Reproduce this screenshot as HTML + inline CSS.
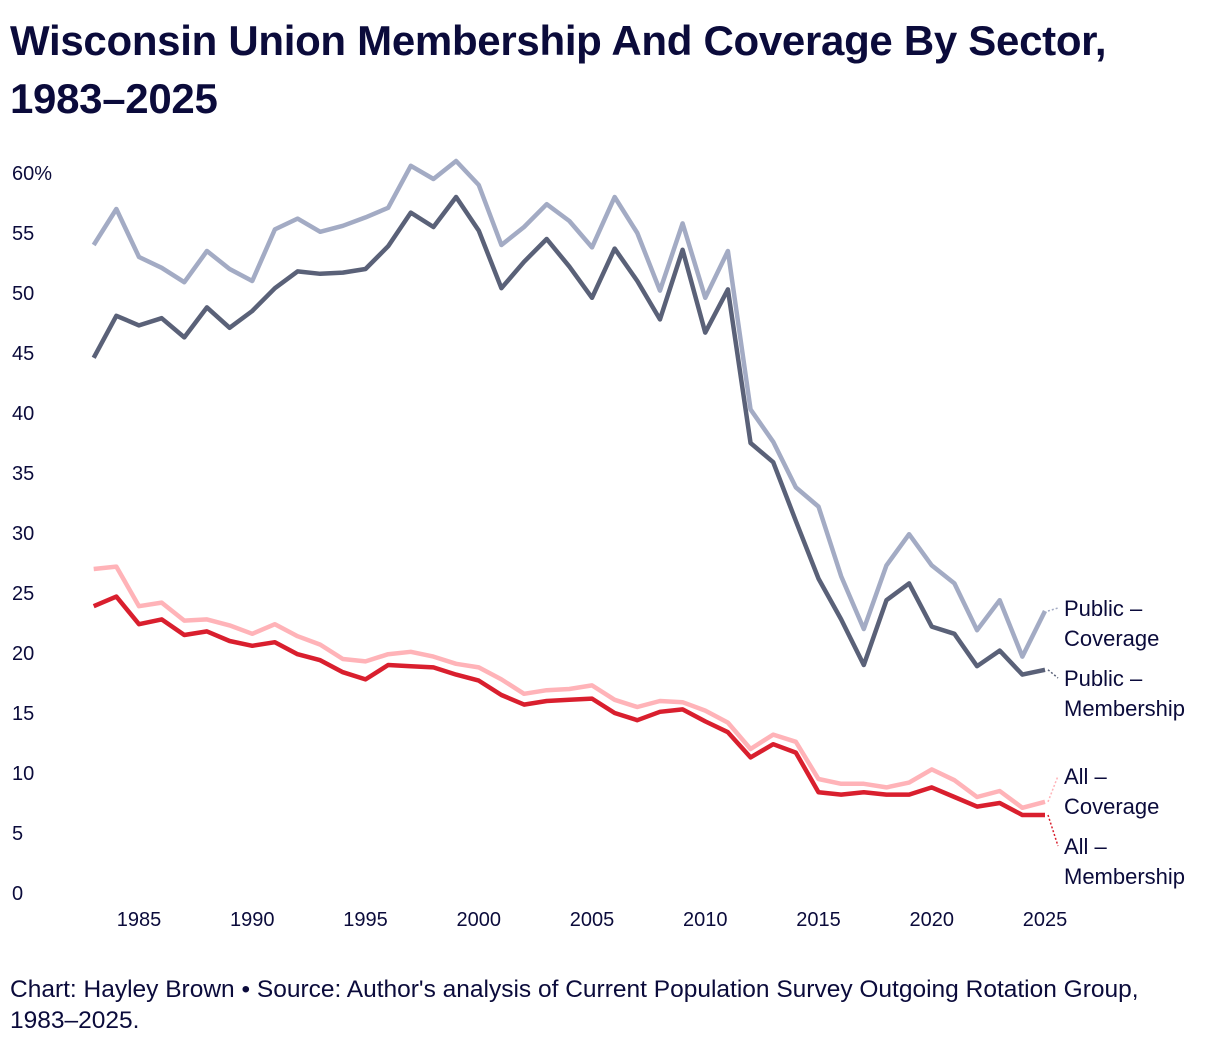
<!DOCTYPE html>
<html><head><meta charset="utf-8"><style>
body{margin:0;background:#fff;width:1220px;height:1044px;overflow:hidden;font-family:"Liberation Sans",sans-serif;color:#0b0b3b}
h1{position:absolute;left:10px;top:12px;margin:0;font-size:42px;line-height:58px;font-weight:bold;width:1210px;letter-spacing:-0.3px}
.foot{position:absolute;left:10px;top:974px;font-size:24.5px;line-height:31px;width:1210px}
svg{position:absolute;left:0;top:0}
</style></head><body>
<h1>Wisconsin Union Membership And Coverage By Sector,<br>1983–2025</h1>
<svg id="chart" width="1220" height="1044"></svg>
<div class="foot">Chart: Hayley Brown • Source: Author's analysis of Current Population Survey Outgoing Rotation Group,<br>1983–2025.</div>
<script>
const years=[];for(let y=1983;y<=2025;y++)years.push(y);
const publicCoverage=[54,57,53,52.1,50.9,53.5,52,51,55.3,56.2,55.1,55.6,56.3,57.1,60.6,59.5,61,59,54,55.5,57.4,56,53.8,58,55,50.2,55.8,49.6,53.5,40.3,37.6,33.8,32.2,26.4,22,27.3,29.9,27.3,25.8,21.9,24.4,19.7,23.5];
const publicMembership=[44.6,48.1,47.3,47.9,46.3,48.8,47.1,48.5,50.4,51.8,51.6,51.7,52,53.9,56.7,55.5,58,55.2,50.4,52.6,54.5,52.2,49.6,53.7,51,47.8,53.6,46.7,50.3,37.5,35.9,31,26.2,22.8,19,24.4,25.8,22.2,21.6,18.9,20.2,18.2,18.6];
const allCoverage=[27,27.2,23.9,24.2,22.7,22.8,22.3,21.6,22.4,21.4,20.7,19.5,19.3,19.9,20.1,19.7,19.1,18.8,17.8,16.6,16.9,17,17.3,16.1,15.5,16,15.9,15.2,14.2,12,13.2,12.6,9.5,9.1,9.1,8.8,9.2,10.3,9.4,8,8.5,7.1,7.6];
const allMembership=[23.9,24.7,22.4,22.8,21.5,21.8,21,20.6,20.9,19.9,19.4,18.4,17.8,19,18.9,18.8,18.2,17.7,16.5,15.7,16,16.1,16.2,15,14.4,15.1,15.3,14.3,13.4,11.3,12.4,11.7,8.4,8.2,8.4,8.2,8.2,8.8,8,7.2,7.5,6.5,6.5];
const yTicks=[0,5,10,15,20,25,30,35,40,45,50,55,60];
const xTicks=[1985,1990,1995,2000,2005,2010,2015,2020,2025];
const X=y=>139+(y-1985)*22.65, Y=v=>893-v*12;
const svg=document.getElementById('chart'),NS='http://www.w3.org/2000/svg';
function mk(t,a){const e=document.createElementNS(NS,t);for(const k in a)e.setAttribute(k,a[k]);svg.appendChild(e);return e;}
yTicks.forEach(v=>{const t=mk('text',{x:12,y:Y(v)+7,'font-size':20,fill:'#0b0b3b'});t.textContent=v===60?'60%':v;

});
xTicks.forEach(v=>{const t=mk('text',{x:X(v),y:926,'font-size':20,fill:'#0b0b3b','text-anchor':'middle'});t.textContent=v;

});
const series=[
 {d:publicCoverage,c:'#a3abc4',n:'public-coverage-line',l:['Public –','Coverage'],ly:608},
 {d:publicMembership,c:'#5a6178',n:'public-membership-line',l:['Public –','Membership'],ly:678},
 {d:allCoverage,c:'#ffb3b8',n:'all-coverage-line',l:['All –','Coverage'],ly:776},
 {d:allMembership,c:'#d91f2e',n:'all-membership-line',l:['All –','Membership'],ly:846}];
series.forEach(s=>{
 const p=mk('polyline',{points:s.d.map((v,i)=>X(years[i])+','+Y(v)).join(' '),fill:'none',stroke:s.c,'stroke-width':4.5,'stroke-linejoin':'round'});
 
 
 const last=s.d[s.d.length-1];
 const ln=mk('line',{x1:X(2025)+3,y1:Y(last),x2:1058,y2:s.ly,stroke:s.c,'stroke-width':1.5,'stroke-dasharray':'2,2'});
 
 
 s.l.forEach((txt,i)=>{const t=mk('text',{x:1064,y:s.ly+8+i*30,'font-size':22,fill:'#0b0b3b'});t.textContent=txt;
 
 });
});
</script>
</body></html>
